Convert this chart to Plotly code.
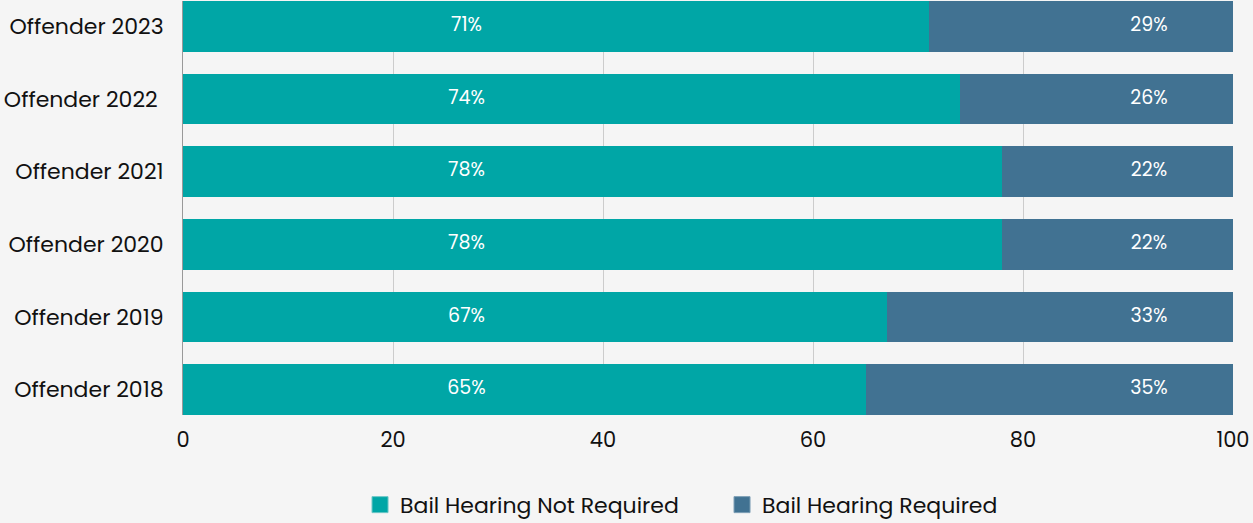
import plotly.graph_objects as go

categories = ["Offender 2018", "Offender 2019", "Offender 2020", "Offender 2021", "Offender 2022 ", "Offender 2023"]
not_required = [65, 67, 78, 78, 74, 71]
required = [35, 33, 22, 22, 26, 29]
series_names = ["Bail Hearing Not Required", "Bail Hearing Required"]
colors = ["#00A6A6", "#417292"]
label_x = [27, 92]

FONT = "Poppins, Lato, 'Open Sans', sans-serif"

fig = go.Figure()
for vals, name, col in zip([not_required, required], series_names, colors):
    fig.add_trace(go.Bar(
        y=categories, x=vals, name=name, orientation="h",
        marker=dict(color=col, line=dict(width=0)),
        hoverinfo="x+y", showlegend=False,
    ))

for vals, lx in zip([not_required, required], label_x):
    fig.add_trace(go.Scatter(
        y=categories, x=[lx] * len(vals), mode="text",
        text=[f"{v}%" for v in vals],
        textfont=dict(color="white", size=19, family=FONT),
        showlegend=False, hoverinfo="skip",
    ))

# legend entries with larger square swatches
legend_edges = ["#6cc6c6", "#7b9db4"]
for name, col, edge in zip(series_names, colors, legend_edges):
    fig.add_trace(go.Scatter(
        x=[None], y=[None], mode="markers", name=name,
        marker=dict(symbol="square", size=24, color=col, line=dict(width=1, color=edge)),
        hoverinfo="skip",
    ))

fig.update_layout(
    barmode="stack",
    bargap=0.305,
    width=1253, height=523,
    margin=dict(l=183, r=20, t=1, b=108, autoexpand=False),
    paper_bgcolor="#F5F5F5",
    plot_bgcolor="#F5F5F5",
    font=dict(family=FONT, color="#111111"),
    xaxis=dict(range=[0, 100], tickvals=[0, 20, 40, 60, 80, 100],
               showgrid=True, gridcolor="#CCCCCC", gridwidth=1,
               zeroline=False, tickfont=dict(size=21, color="#111111"),
               ticks="", ticklabelstandoff=10),
    yaxis=dict(range=[-0.3475, 5.3475], showline=True, linecolor="#999999", linewidth=1,
               showgrid=False, tickfont=dict(size=22, color="#111111"),
               ticks="", ticklabelstandoff=14),
    legend=dict(orientation="h", x=0.1686, xanchor="left", y=-0.217, yanchor="middle",
                font=dict(size=22, color="#111111"), bgcolor="rgba(0,0,0,0)",
                traceorder="normal", itemsizing="trace", entrywidth=317, borderwidth=0),
    showlegend=True,
)

fig.write_html("out.html", config={"displayModeBar": False},
               post_script="document.body.style.margin='0';")
